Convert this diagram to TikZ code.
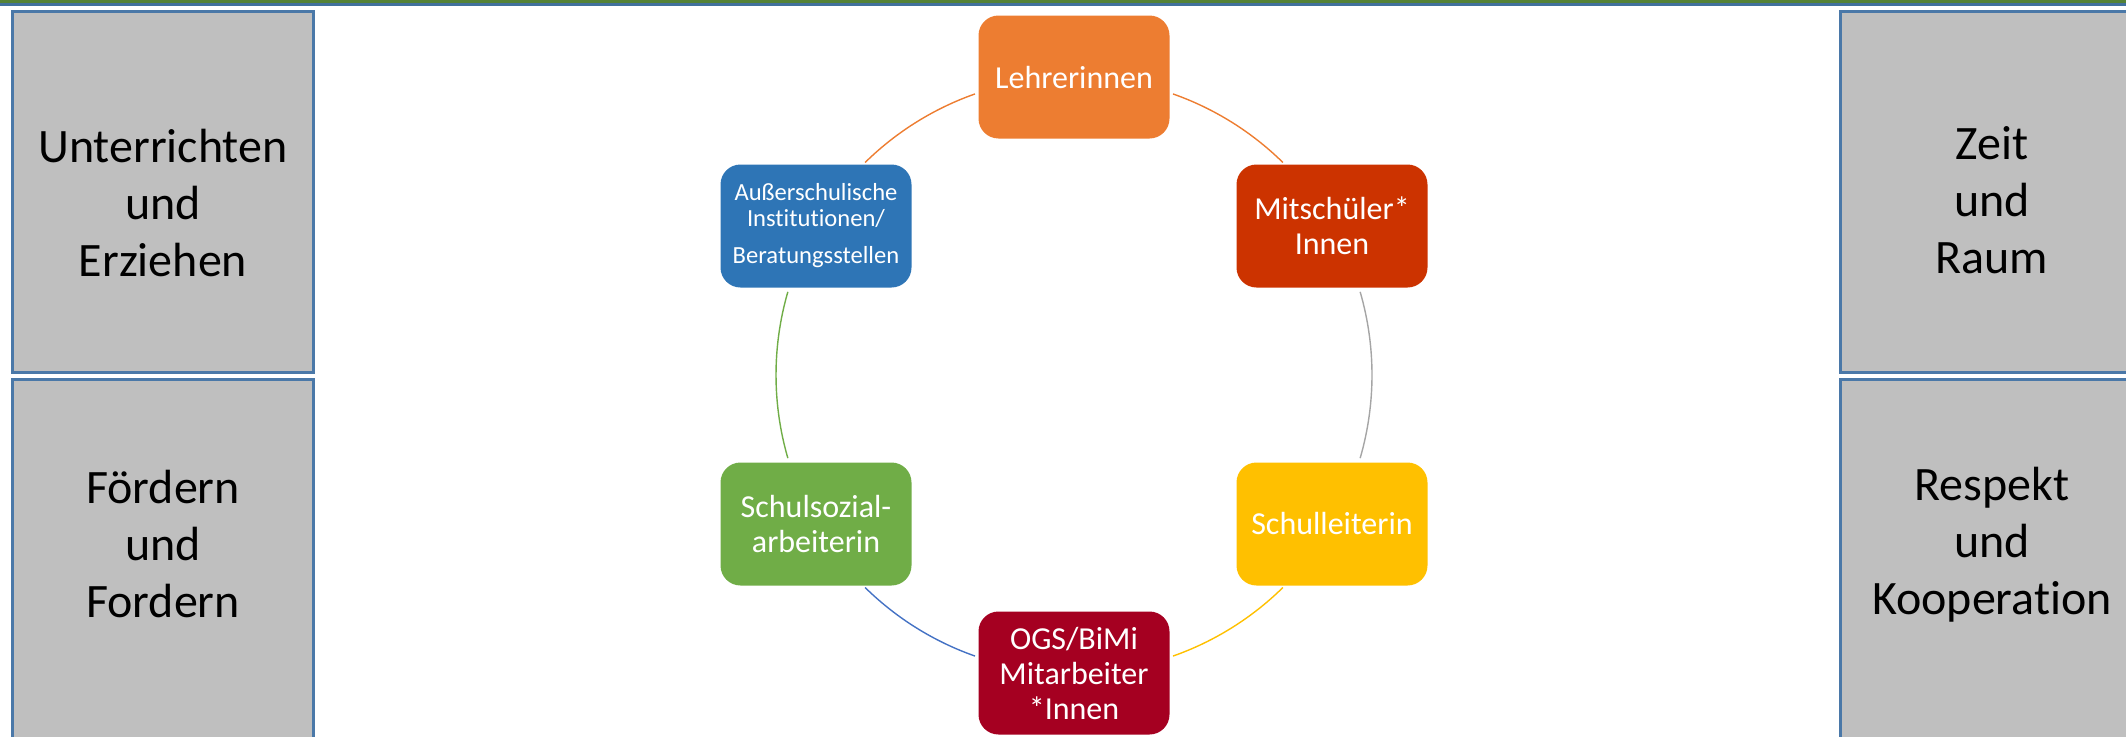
\documentclass[tikz,border=0pt]{standalone}
\usepackage{fontspec}
\setmainfont{Carlito}[Ligatures=NoCommon]
\definecolor{boxgray}{HTML}{BFBFBF}
\definecolor{boxline}{HTML}{4A78A8}
\definecolor{topgreen}{HTML}{548235}
\definecolor{topblue}{HTML}{41719C}
\definecolor{corange}{HTML}{ED7D31}
\definecolor{cred}{HTML}{CC3300}
\definecolor{cgold}{HTML}{FFC000}
\definecolor{cdarkred}{HTML}{A50021}
\definecolor{cgreen}{HTML}{70AD47}
\definecolor{cblue}{HTML}{2E75B6}
\definecolor{agray}{HTML}{A5A5A5}
\definecolor{ablue}{HTML}{4472C4}
\begin{document}
\begin{tikzpicture}[x=0.5pt,y=0.5pt,
  graybox/.style={draw=boxline,line width=1.5pt,fill=boxgray,minimum width=150.5pt,inner sep=0pt},
  graytext/.style={font=\fontsize{24pt}{28.5pt}\selectfont,align=center,text=black,inner sep=0pt},
  member/.style={rounded corners=10pt,minimum width=95.5pt,minimum height=61.5pt,inner sep=0pt,text=white,align=center,font=\fontsize{16pt}{17.5pt}\selectfont},
  ring/.style={line width=0.7pt}]
\useasboundingbox (0,0) rectangle (2126,736);
\clip (0,0) rectangle (2126,736);
\fill[topgreen] (0,732.7) rectangle (2126,736);
\fill[topblue] (0,730.5) rectangle (2126,732.7);
% gray boxes
\node[graybox,minimum height=180.5pt] (bl1) at (163,544.5) {};
\node[graybox,minimum height=190.25pt] (bl2) at (163,166.25) {};
\node[graybox,minimum height=180.5pt] (br1) at (1991,544.5) {};
\node[graybox,minimum height=190.25pt] (br2) at (1991,166.25) {};
\node[graytext] (tl1) at (163,533) {Unterrichten\\und\\Erziehen};
\node[graytext] (tl2) at (163,192.5) {Fördern\\und\\Fordern};
\node[graytext] (tr1) at (1992,536) {Zeit\\und\\Raum};
\node[graytext] (tr2) at (1992,191.5) {Respekt\\und\\Kooperation};
% cycle
\coordinate (c) at (1074,361);
\node[member,fill=corange] (lehrer) at (1074,659) {Lehrerinnen};
\node[member,fill=cred] (mitsch) at (1332,510) {Mitschüler*\\Innen};
\node[member,fill=cgold] (leit) at (1332,212) {Schulleiterin};
\node[member,fill=cdarkred] (ogs) at (1074,63) {OGS/BiMi\\Mitarbeiter\\*Innen};
\node[member,fill=cgreen] (sozial) at (816,212) {Schulsozial-\\arbeiterin};
\node[member,fill=cblue,font=\fontsize{12.3pt}{13pt}\selectfont] (ausser) at (816,510) {Außerschulische\\Institutionen/\\[5.5pt]Beratungsstellen};
\draw[ring,corange] ([shift={(70.6:149pt)}]c) arc[start angle=70.6,end angle=45.5,radius=149pt];
\draw[ring,agray] ([shift={(16.2:149pt)}]c) arc[start angle=16.2,end angle=-16.2,radius=149pt];
\draw[ring,cgold] ([shift={(-45.5:149pt)}]c) arc[start angle=-45.5,end angle=-70.6,radius=149pt];
\draw[ring,ablue] ([shift={(-109.4:149pt)}]c) arc[start angle=-109.4,end angle=-134.5,radius=149pt];
\draw[ring,cgreen] ([shift={(196.2:149pt)}]c) arc[start angle=196.2,end angle=163.8,radius=149pt];
\draw[ring,corange] ([shift={(134.5:149pt)}]c) arc[start angle=134.5,end angle=109.4,radius=149pt];
\end{tikzpicture}
\end{document}
